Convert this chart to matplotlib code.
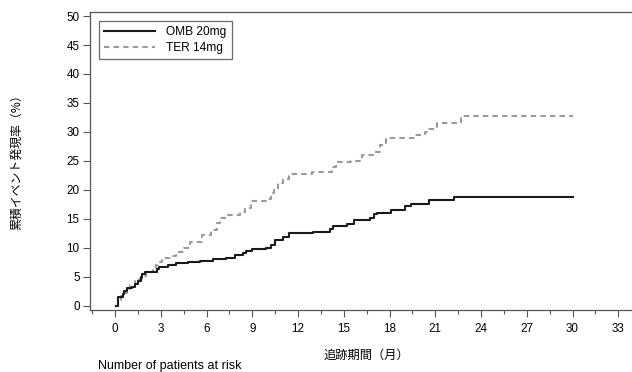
import matplotlib
matplotlib.use("Agg")
import matplotlib.pyplot as plt
from matplotlib.ticker import MultipleLocator

plt.rcParams['font.family'] = ['Liberation Sans', 'Noto Sans CJK JP', 'DejaVu Sans']
CJK = ['Noto Sans CJK JP', 'DejaVu Sans']

# Data
omb_x = [0.07, 0.2, 0.5, 0.6, 0.8, 1.1, 1.3, 1.5, 1.7, 1.8, 1.95, 2.75, 2.9, 3.5, 4.0, 4.8, 5.6,
         6.45, 7.3, 7.9, 8.4, 8.6, 9.0, 9.9, 10.2, 10.5, 11.0, 11.4, 13.0, 14.1, 14.3, 15.2, 15.7,
         16.7, 17.0, 17.2, 18.1, 19.0, 19.4, 20.6, 22.2, 30.0]
omb_y = [0.0, 1.5, 2.1, 2.6, 3.0, 3.3, 3.7, 4.3, 5.0, 5.5, 5.9, 6.3, 6.7, 7.1, 7.3, 7.6, 7.7,
         8.0, 8.3, 8.7, 9.1, 9.5, 9.8, 10.0, 10.5, 11.3, 11.9, 12.6, 12.8, 13.3, 13.7, 14.1, 14.8,
         15.1, 15.8, 16.0, 16.6, 17.2, 17.6, 18.2, 18.8, 18.8]
ter_x = [0.1, 0.2, 0.4, 0.6, 0.8, 1.0, 1.3, 1.6, 1.8, 2.0, 2.5, 2.7, 2.8, 3.1, 3.6, 4.0, 4.5,
         4.9, 5.7, 6.3, 6.7, 6.9, 7.2, 8.2, 8.5, 8.9, 9.95, 10.2, 10.4, 10.7, 11.0, 11.4, 12.9,
         14.2, 14.5, 15.5, 16.2, 16.9, 17.4, 17.8, 19.7, 20.3, 20.6, 21.1, 22.7, 30.0]
ter_y = [0.0, 1.0, 1.6, 2.2, 2.8, 3.5, 4.2, 4.6, 5.2, 5.8, 6.2, 7.0, 7.6, 8.2, 8.6, 9.3, 9.9,
         11.0, 12.2, 13.1, 14.2, 15.1, 15.6, 16.2, 16.8, 18.0, 18.5, 19.4, 20.0, 21.1, 21.8, 22.7, 23.1,
         24.0, 24.8, 24.9, 26.0, 26.6, 27.8, 29.0, 29.4, 30.0, 30.5, 31.5, 32.8, 32.8]
series_labels = ['OMB 20mg', 'TER 14mg']
x_major = list(range(0, 34, 3))
y_major = list(range(0, 51, 5))

W, H = 632, 372
fig = plt.figure(figsize=(W / 100, H / 100), dpi=100)
ax = fig.add_axes([90 / W, 62 / H, (W - 90) / W, 298 / H])

ax.step(ter_x, ter_y, where='post', color='#9a9a9a', lw=1.5, ls=(0, (2.6, 2.0)),
        label=series_labels[1], zorder=2)
ax.step(omb_x, omb_y, where='post', color='#1a1a1a', lw=1.5, label=series_labels[0], zorder=3)

ax.set_xlim(-1.64, 33.9)
ax.set_ylim(-0.74, 50.7)
ax.set_xticks(x_major)
ax.xaxis.set_minor_locator(MultipleLocator(1.5))
ax.set_yticks(y_major)

for s in ['left', 'bottom', 'top']:
    ax.spines[s].set_color('#555555')
    ax.spines[s].set_linewidth(0.9)
ax.spines['right'].set_visible(False)

ax.tick_params(axis='both', which='major', length=5, width=0.8, color='#555555',
               labelsize=8.4, pad=2.5)
ax.tick_params(axis='x', which='minor', length=3, width=0.8, color='#555555')
ax.tick_params(axis='x', which='major', pad=4)
ax.tick_params(axis='y', which='minor', length=0)

handles, labels = ax.get_legend_handles_labels()
order = [1, 0]
leg = ax.legend([handles[i] for i in order], [labels[i] for i in order],
                loc='upper left', bbox_to_anchor=(9 / 542, 1 - 9 / 298),
                borderaxespad=0, fontsize=8.6, handlelength=4.2, handletextpad=1.0,
                frameon=True, fancybox=False, edgecolor='#444444', borderpad=0.45,
                labelspacing=0.3)
leg.get_frame().set_linewidth(0.9)

fig.text(17 / W, 1 - 159 / H, '累積イベント発現率（%）', rotation=90, ha='center', va='center',
         fontsize=8.6, family=CJK)
fig.text(366 / W, 1 - 355 / H, '追跡期間（月）', ha='center', va='center', fontsize=8.8,
         family=CJK)
fig.text(98 / W, 1 - 360 / H, 'Number of patients at risk', ha='left', va='top', fontsize=9)

fig.savefig('out.png', dpi=100)
